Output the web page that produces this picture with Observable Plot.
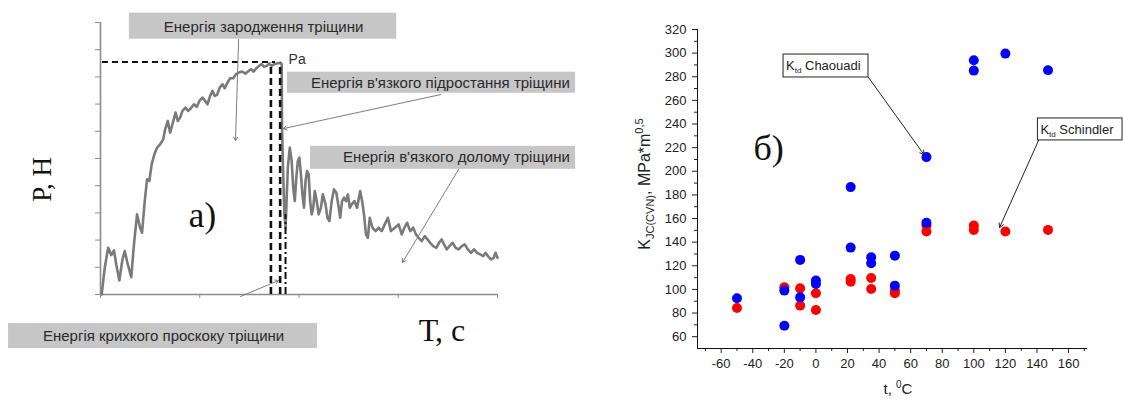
<!DOCTYPE html>
<html><head><meta charset="utf-8">
<script src="https://cdn.jsdelivr.net/npm/d3@7"></script>
<script src="https://cdn.jsdelivr.net/npm/@observablehq/plot@0.6"></script>
<style>
body{margin:0;background:#fff;}
#wrap{position:relative;width:1124px;height:400px;overflow:hidden;background:#fff}
#left{position:absolute;left:0;top:0}
#right{position:absolute;left:600px;top:0}
</style></head><body><div id="wrap"><div id="left"></div><div id="right"></div></div>
<script>
// ---------- panel а): load–time curve (arbitrary units, no tick labels) ----------
const curveT = [3,11,20,28,35,41,49,57,63,71,80,87,95,103,108,115,121,127,133,140,147,155,163,168,175,181,187,195,201,207,213,221,228,235,243,250,257,265,272,278,285,291,297,303,310,317,323,330,337,345,352,360,368,377,385,392,398,405,412,419,425,432,438,445,452,460,468,471,472,475,478,481,484,487,492,497,501,505,509,513,517,521,525,529,533,537,541,545,549,553,557,562,567,573,578,585,590,595,601,607,613,618,623,628,633,638,643,648,653,660,667,675,680,685,690,695,700,707,715,723,731,739,747,755,765,775,783,790,797,805,813,820,827,835,843,850,857,865,873,880,887,893,900,907,915,923,931,939,947,955,963,971,979,987,995,1001,1007,1015,1022,1027,1032];
const curveP = [0,80,140,118,132,90,42,105,130,90,52,150,240,200,185,280,345,340,390,420,440,450,465,495,520,485,510,545,520,530,550,560,550,558,570,562,580,590,580,570,595,610,595,598,620,630,618,635,648,648,660,665,668,662,670,675,668,678,685,690,682,685,692,685,690,693,694,690,490,360,240,200,290,380,440,400,320,280,350,400,410,360,300,260,340,370,360,280,240,260,310,280,240,260,300,270,230,220,280,315,305,270,230,280,290,280,300,260,270,280,260,310,280,240,180,170,230,200,190,200,190,210,230,190,200,210,180,200,215,190,200,180,170,160,175,165,155,145,140,155,165,150,135,145,155,140,135,145,150,135,125,135,125,120,115,125,115,105,110,125,110];
const tTicks = [0,258,516,774,1032];
const pTicks = [0,81.5,163,244.5,326,407.5,489,570.5,652,733.5,815];
// dashed construction lines (Pa level and verticals)
const paLevel = [{t1:5, t2:455, p:697}];
const dashedV = [{t:443, top:693}, {t:467, top:693}];
const dashDotV = [{t:481, top:240}];
// annotation boxes of panel а)
const boxTop    = [{label:"Енергія зародження тріщини", x1:75, x2:770, y1:765, y2:843, tx:424, ty:801}];
const boxRight  = [
  {label:"Енергія в'язкого підростання тріщини", x1:486, x2:1235, y1:603, y2:666, tx:1220, ty:634},
  {label:"Енергія в'язкого долому тріщини", x1:546, x2:1235, y1:375, y2:444, tx:1220, ty:410}
];
const boxBottom = [{label:"Енергія крихкого проскоку тріщини", x1:-239, x2:564, y1:-162, y2:-87, tx:164, ty:-126}];
const leadersA = [
  {x1:359, y1:764, x2:351, y2:461},
  {x1:884, y1:599, x2:475, y2:497},
  {x1:931, y1:375, x2:785, y2:96},
  {x1:364, y1:-6,  x2:463, y2:42}
];
const labelA = [{s:"а)", t:265, p:237}];
const labelT = [{s:"Т, с", t:827, p:-108}];

// ---------- panel б): K_JC(CVN) vs temperature ----------
const tempC      = [-50,-20,-20,-10,-10,0,0,22,22,35,35,50,50,70,70,100,100,120,147];
const kChaouadi  = [92.5,99,69.3,125,93.3,107.5,104.6,186.6,135.4,127.2,122.2,128.6,103.2,212,156.4,294,285.2,299.6,285.5];
const tempS      = [-50,-20,-10,-10,0,0,22,22,35,35,50,50,70,70,100,100,120,147];
const kSchindler = [84.3,101.8,100.9,86.3,96.7,82.6,108.9,106.6,109.7,100.4,99,96.7,154.1,149,154.1,150.4,149,150.4];
const xMajor = [-60,-40,-20,0,20,40,60,80,100,120,140,160];
const xMinor = [-70,-50,-30,-10,10,30,50,70,90,110,130,150,170];
const yMajor = [60,80,100,120,140,160,180,200,220,240,260,280,300,320];
const yMinor = [70,90,110,130,150,170,190,210,230,250,270,290,310];
const notesB = [
  {name:"Chaouadi",  x1:-20.5, x2:33.3,  y1:279.4, y2:298.8, ax1:33.3, ay1:279.4, ax2:68.5, ay2:214},
  {name:"Schindler", x1:140.6, x2:194.2, y1:226.1, y2:244.7, ax1:141,  ay1:226.1, ax2:116.3, ay2:152.4}
];

const SANS = "Liberation Sans, Arial, sans-serif";
const SERIF = "Liberation Serif, Times New Roman, serif";

// ===== Left plot =====
const curve = curveT.map((t,i)=>({t, p: curveP[i]}));
const gray = "#8c8c8c";
const left = Plot.plot({
  width: 600, height: 400,
  marginLeft: 100, marginRight: 103, marginTop: 22, marginBottom: 106,
  x: {domain: [0,1032]},
  y: {domain: [0,815]},
  style: {fontFamily: SANS, background: "transparent", overflow: "visible"},
  marks: [
    Plot.rect(boxTop, {x1:"x1", x2:"x2", y1:"y1", y2:"y2", fill:"#c6c6c6"}),
    Plot.rect(boxRight, {x1:"x1", x2:"x2", y1:"y1", y2:"y2", fill:"#c6c6c6"}),
    Plot.rect(boxBottom, {x1:"x1", x2:"x2", y1:"y1", y2:"y2", fill:"#c6c6c6"}),
    Plot.text(boxTop, {x:"tx", y:"ty", text:"label", textAnchor:"middle", lineAnchor:"middle", fontSize:15, fill:"#2a2a2a", fontFamily:SANS}),
    Plot.text(boxRight, {x:"tx", y:"ty", text:"label", textAnchor:"end", lineAnchor:"middle", fontSize:15, fill:"#2a2a2a", fontFamily:SANS}),
    Plot.text(boxBottom, {x:"tx", y:"ty", text:"label", textAnchor:"middle", lineAnchor:"middle", fontSize:15, fill:"#2a2a2a", fontFamily:SANS}),
    Plot.axisY({ticks: pTicks, tickSize: 5, tickFormat: () => "", stroke: gray, label: null}),
    Plot.axisX({ticks: tTicks, tickSize: 4, tickFormat: () => "", stroke: gray, label: null}),
    Plot.ruleX([0], {stroke: gray, strokeWidth: 1.6}),
    Plot.ruleY([0], {stroke: gray, strokeWidth: 1.6}),
    Plot.line(curve, {x:"t", y:"p", stroke:"#7a7a7a", strokeWidth:2.6}),
    Plot.ruleY(paLevel, {y:"p", x1:"t1", x2:"t2", stroke:"#111", strokeWidth:2, strokeDasharray:"6,4"}),
    Plot.ruleX(dashedV, {x:"t", y1:0, y2:"top", stroke:"#111", strokeWidth:2.6, strokeDasharray:"7,4"}),
    Plot.ruleX(dashDotV, {x:"t", y1:0, y2:"top", stroke:"#111", strokeWidth:2, strokeDasharray:"7,3,2,3"}),
    Plot.arrow(leadersA, {x1:"x1", y1:"y1", x2:"x2", y2:"y2", stroke:"#7d7d7d", strokeWidth:1, headLength:6}),
    Plot.text([{s:"Pa", t:489, p:704}], {x:"t", y:"p", text:"s", textAnchor:"start", lineAnchor:"middle", fontSize:14, fill:"#333", fontFamily:SANS}),
    Plot.text(labelA, {x:"t", y:"p", text:"s", fontSize:35, textAnchor:"middle", lineAnchor:"middle", fill:"#111", fontFamily:SERIF}),
    Plot.text(labelT, {x:"t", y:"p", text:"s", fontSize:32, textAnchor:"start", lineAnchor:"middle", fill:"#111", fontFamily:SERIF}),
    Plot.text([{s:"Р, Н", t:-151, p:345}], {x:"t", y:"p", text:"s", rotate:-90, fontSize:27, lineAnchor:"middle", fill:"#111", fontFamily:SERIF})
  ]
});
document.getElementById("left").appendChild(left);

// ===== Right plot =====
const ptsC = tempC.map((t,i)=>({t, k:kChaouadi[i]}));
const ptsS = tempS.map((t,i)=>({t, k:kSchindler[i]}));
const right = Plot.plot({
  width: 524, height: 400,
  marginLeft: 97, marginRight: 37, marginTop: 29, marginBottom: 52,
  x: {domain: [-75,172]},
  y: {domain: [50,320]},
  style: {fontFamily: SANS, fontSize: "13px", color: "#222", background: "transparent", overflow: "visible"},
  marks: [
    Plot.axisX({ticks: xMajor, tickSize: 5, tickPadding: 5, fontSize: 13, tickFormat: d => String(d), label: null}),
    Plot.axisX({ticks: xMinor, tickSize: 3, tickFormat: () => "", label: null}),
    Plot.axisY({ticks: yMajor, tickSize: 5, tickPadding: 6, fontSize: 13, tickFormat: d => String(d), label: null}),
    Plot.axisY({ticks: yMinor, tickSize: 3, tickFormat: () => "", label: null}),
    Plot.ruleX([-75], {stroke:"#111"}),
    Plot.ruleY([50], {stroke:"#111"}),
    Plot.dot(ptsS, {x:"t", y:"k", r:5, fill:"#ff0000"}),
    Plot.dot(ptsC, {x:"t", y:"k", r:5, fill:"#0000ff"}),
    Plot.rect(notesB, {x1:"x1", x2:"x2", y1:"y1", y2:"y2", fill:"#fff", stroke:"#222", strokeWidth:1}),
    Plot.arrow(notesB, {x1:"ax1", y1:"ay1", x2:"ax2", y2:"ay2", stroke:"#222", strokeWidth:1, headLength:7}),
    Plot.text([{s:"б)", t:-30, k:219.3}], {x:"t", y:"k", text:"s", fontSize:36, lineAnchor:"middle", fill:"#111", fontFamily:SERIF})
  ]
});
document.getElementById("right").appendChild(right);

// rich text (sub/superscripts) placed with the same scales
const xs = d3.scaleLinear([-75,172],[97,487]);
const ys = d3.scaleLinear([50,320],[348,29]);
const rs = d3.select(right);
notesB.forEach(n => {
  const t = rs.append("text").attr("x", xs(n.x1)+3).attr("y", ys(n.y2)+16)
    .attr("text-anchor", "start")
    .attr("font-family", SANS).attr("font-size", 13).attr("fill", "#222");
  t.append("tspan").text("K");
  t.append("tspan").attr("font-size", 8).attr("dy", 3).text("td");
  t.append("tspan").attr("dy", -3).text(" " + n.name);
});
const yl = rs.append("text").attr("transform", "translate(50,184) rotate(-90)")
  .attr("text-anchor", "middle").attr("font-family", SANS).attr("font-size", 16).attr("fill", "#222");
yl.append("tspan").text("K");
yl.append("tspan").attr("font-size", 11).attr("dy", 4).text("JC(CVN)");
yl.append("tspan").attr("dy", -4).text(", MPa*m");
yl.append("tspan").attr("font-size", 11).attr("dy", -7).text("0,5");
const xl = rs.append("text").attr("x", 298).attr("y", 394)
  .attr("text-anchor", "middle").attr("font-family", SANS).attr("font-size", 15).attr("fill", "#222");
xl.append("tspan").text("t, ");
xl.append("tspan").attr("font-size", 10).attr("dy", -6).text("0");
xl.append("tspan").attr("dy", 6).text("C");
</script></body></html>
